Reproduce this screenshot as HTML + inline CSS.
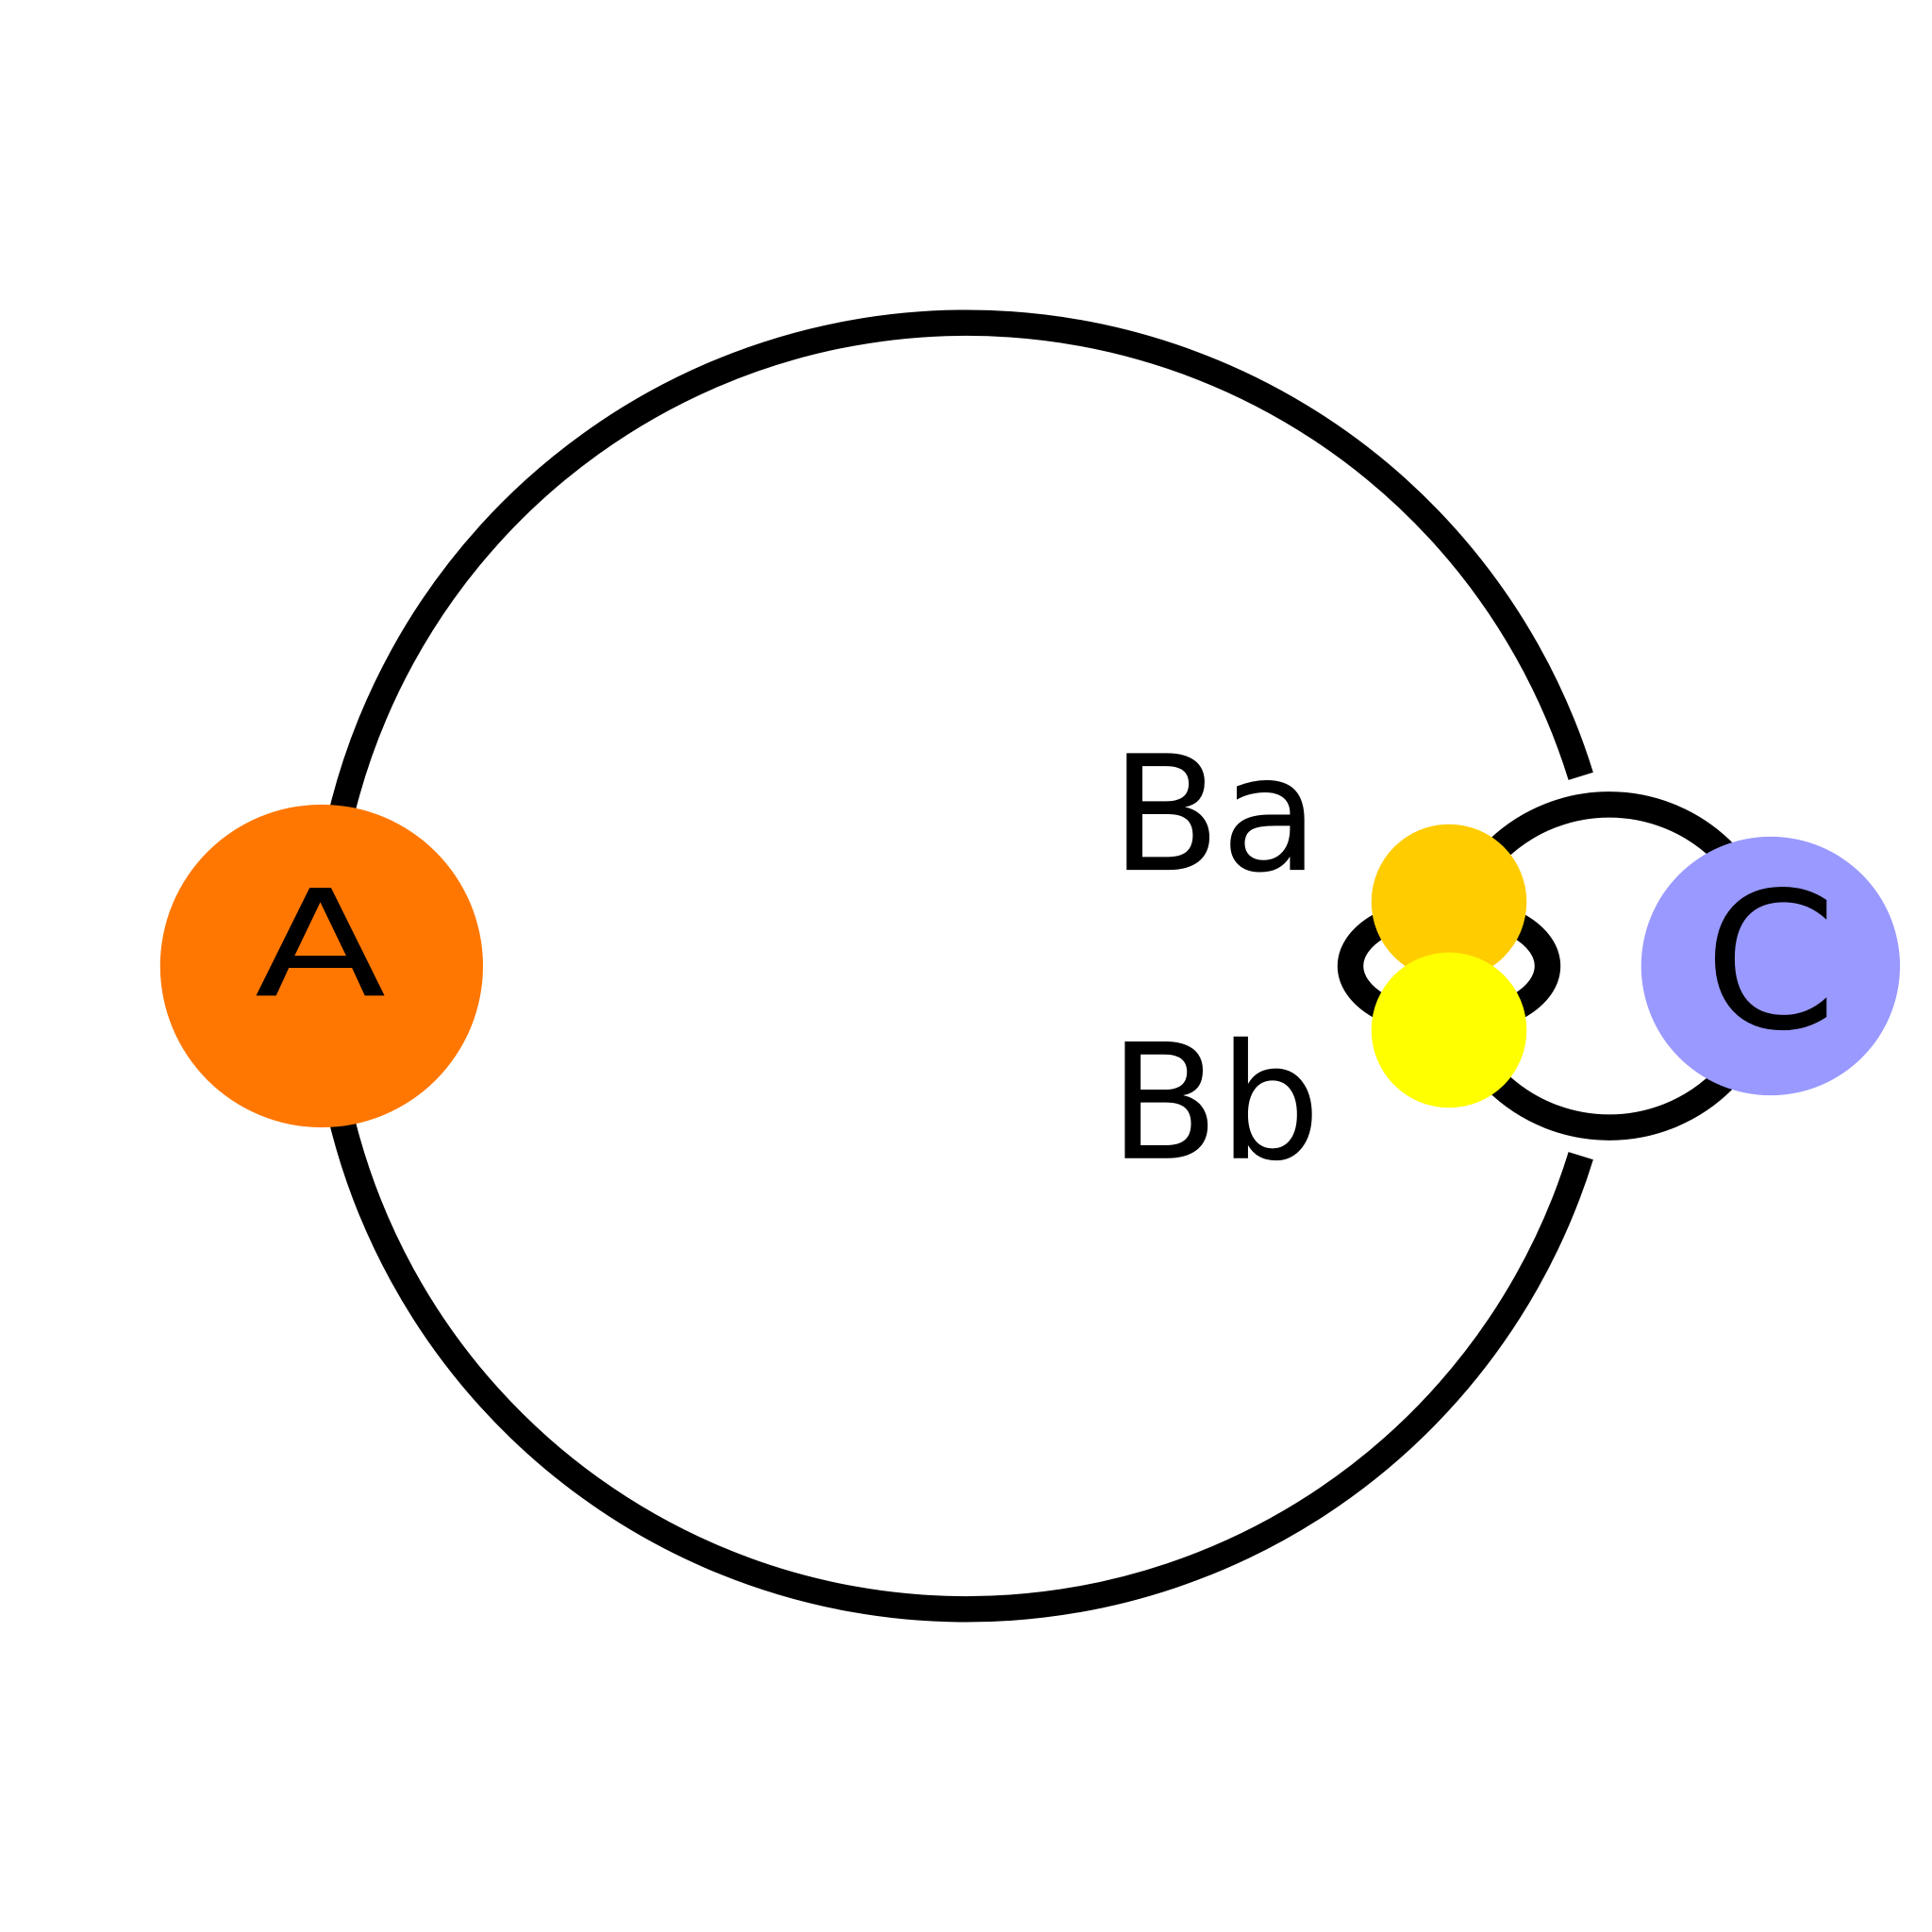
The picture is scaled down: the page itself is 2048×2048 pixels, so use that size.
<!DOCTYPE html>
<html><head><meta charset="utf-8"><style>
html,body{margin:0;padding:0;background:#fff}
svg{display:block}
text{font-family:"DejaVu Sans","Liberation Sans",sans-serif}
</style></head><body>
<svg width="2048" height="2048" viewBox="0 0 1568 1568" xmlns="http://www.w3.org/2000/svg">
<rect width="1568" height="1568" fill="#fff"/>
<path d="M1283,630 A522,522 0 1 0 1283,938" fill="none" stroke="#000" stroke-width="21"/>
<circle cx="1306" cy="784" r="131" fill="none" stroke="#000" stroke-width="21"/>
<ellipse cx="1176" cy="784" rx="80" ry="46" fill="none" stroke="#000" stroke-width="21"/>
<circle cx="261" cy="784" r="131" fill="#FF7700"/>
<text x="0" y="0" font-size="120" text-anchor="middle" transform="translate(260,808) scale(1.3,1)">A</text>
<circle cx="1176" cy="732" r="63" fill="#FFCC00"/>
<circle cx="1176" cy="836" r="63" fill="#FFFF00"/>
<circle cx="1437" cy="784" r="105" fill="#9999FF"/>
<text x="1437" y="834" font-size="154" text-anchor="middle">C</text>
<text x="986" y="706" font-size="130" text-anchor="middle">Ba</text>
<text x="986" y="940" font-size="130" text-anchor="middle">Bb</text>
</svg>
</body></html>
